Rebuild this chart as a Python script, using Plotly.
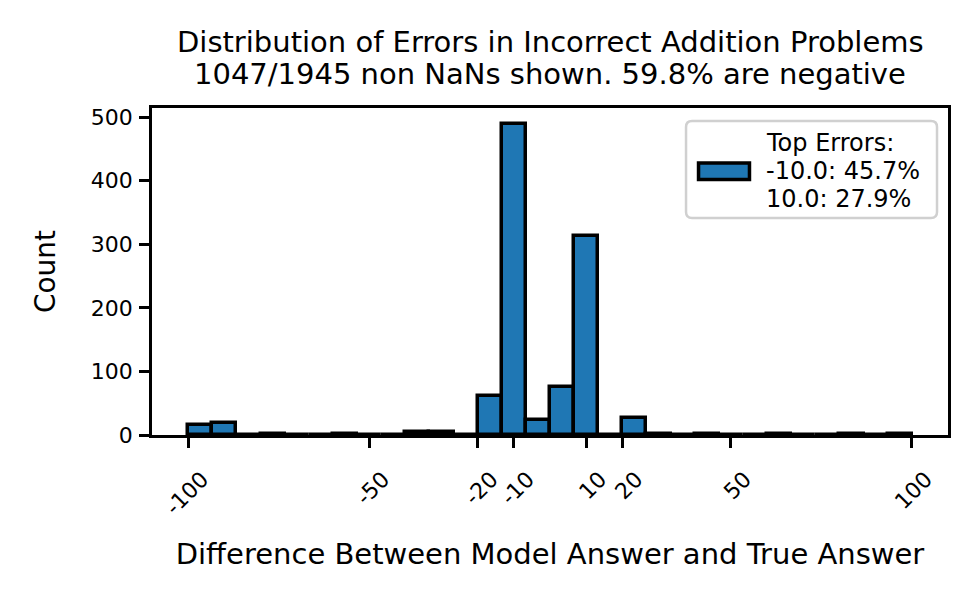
import plotly.graph_objects as go

# ---- data ----
bin_start = -100.0
bin_end = 100.0
n_bins = 30
counts = [16, 19, 0, 2, 0, 0, 1, 0, 0, 5,
          5, 0, 61, 490, 23, 75, 313, 0, 26, 1,
          0, 1, 0, 0, 1, 0, 0, 1, 0, 1]
x_tick_vals = [-100, -50, -20, -10, 10, 20, 50, 100]
x_tick_text = ["-100", "-50", "-20", "-10", "10", "20", "50", "100"]
y_tick_vals = [0, 100, 200, 300, 400, 500]
title_lines = ["Distribution of Errors in Incorrect Addition Problems",
               "1047/1945 non NaNs shown. 59.8% are negative"]
legend_lines = ["Top Errors:", "-10.0: 45.7%", "10.0: 27.9%"]
x_label = "Difference Between Model Answer and True Answer"
y_label = "Count"

bar_color = "#1f77b4"
bin_w = (bin_end - bin_start) / n_bins
centers = [bin_start + (i + 0.5) * bin_w for i in range(n_bins)]

fig = go.Figure()
fig.add_trace(go.Bar(
    x=centers, y=counts, width=bin_w,
    marker=dict(color=bar_color, line=dict(color="black", width=3.5)),
    name=" ".join(legend_lines), showlegend=False,
))

axis_common = dict(
    showline=True, linecolor="black", linewidth=2.5, mirror=True,
    ticks="outside", ticklen=10, tickwidth=2.5, tickcolor="black",
    showgrid=False, zeroline=False,
)

# page is offset by the default 8px body margin -> figure 971x589
fig.update_layout(
    width=971, height=589,
    margin=dict(l=144, r=31, t=100, b=162),
    plot_bgcolor="white", paper_bgcolor="white",
    font=dict(family="DejaVu Sans", color="black"),
    bargap=0,
    showlegend=False,
    xaxis=dict(range=[-110, 110], tickvals=x_tick_vals, ticktext=x_tick_text,
               tickangle=-45, tickfont=dict(size=22), ticklabelshift=14,
               ticklabelstandoff=10,
               title=dict(text=x_label, font=dict(size=29), standoff=25),
               **axis_common),
    yaxis=dict(range=[0, 514.5], tickvals=y_tick_vals,
               tickfont=dict(size=22), ticklabelstandoff=2,
               title=dict(text=y_label, font=dict(size=28), standoff=28),
               **axis_common),
)

# title (two lines, matplotlib-like spacing)
title_y = [1.2028, 1.104]
for line, yy in zip(title_lines, title_y):
    fig.add_annotation(text=line, x=0.5, y=yy, xref="paper", yref="paper",
                       xanchor="center", yanchor="middle", showarrow=False,
                       font=dict(size=29))

# legend box (matplotlib-style, rounded corners)
lx0, lx1, ly0, ly1 = 0.6709, 0.9862, 0.6636, 0.9602
rx, ry = 0.0075, 0.0183
box_path = (f"M {lx0+rx},{ly0} L {lx1-rx},{ly0} Q {lx1},{ly0} {lx1},{ly0+ry} "
            f"L {lx1},{ly1-ry} Q {lx1},{ly1} {lx1-rx},{ly1} "
            f"L {lx0+rx},{ly1} Q {lx0},{ly1} {lx0},{ly1-ry} "
            f"L {lx0},{ly0+ry} Q {lx0},{ly0} {lx0+rx},{ly0} Z")
fig.add_shape(type="path", xref="paper", yref="paper", path=box_path,
              line=dict(color="#d0d0d0", width=2.5),
              fillcolor="rgba(255,255,255,0.8)")
fig.add_shape(type="rect", xref="paper", yref="paper",
              x0=0.6866, x1=0.7506, y0=0.7813, y1=0.8318,
              line=dict(color="black", width=3.5), fillcolor=bar_color)
legend_y = [0.8942, 0.8064, 0.7226]
for line, yy in zip(legend_lines, legend_y):
    fig.add_annotation(text=line, x=0.7684, y=yy, xref="paper", yref="paper",
                       xanchor="left", yanchor="middle", showarrow=False,
                       font=dict(size=24))

fig.write_html("out.html")
